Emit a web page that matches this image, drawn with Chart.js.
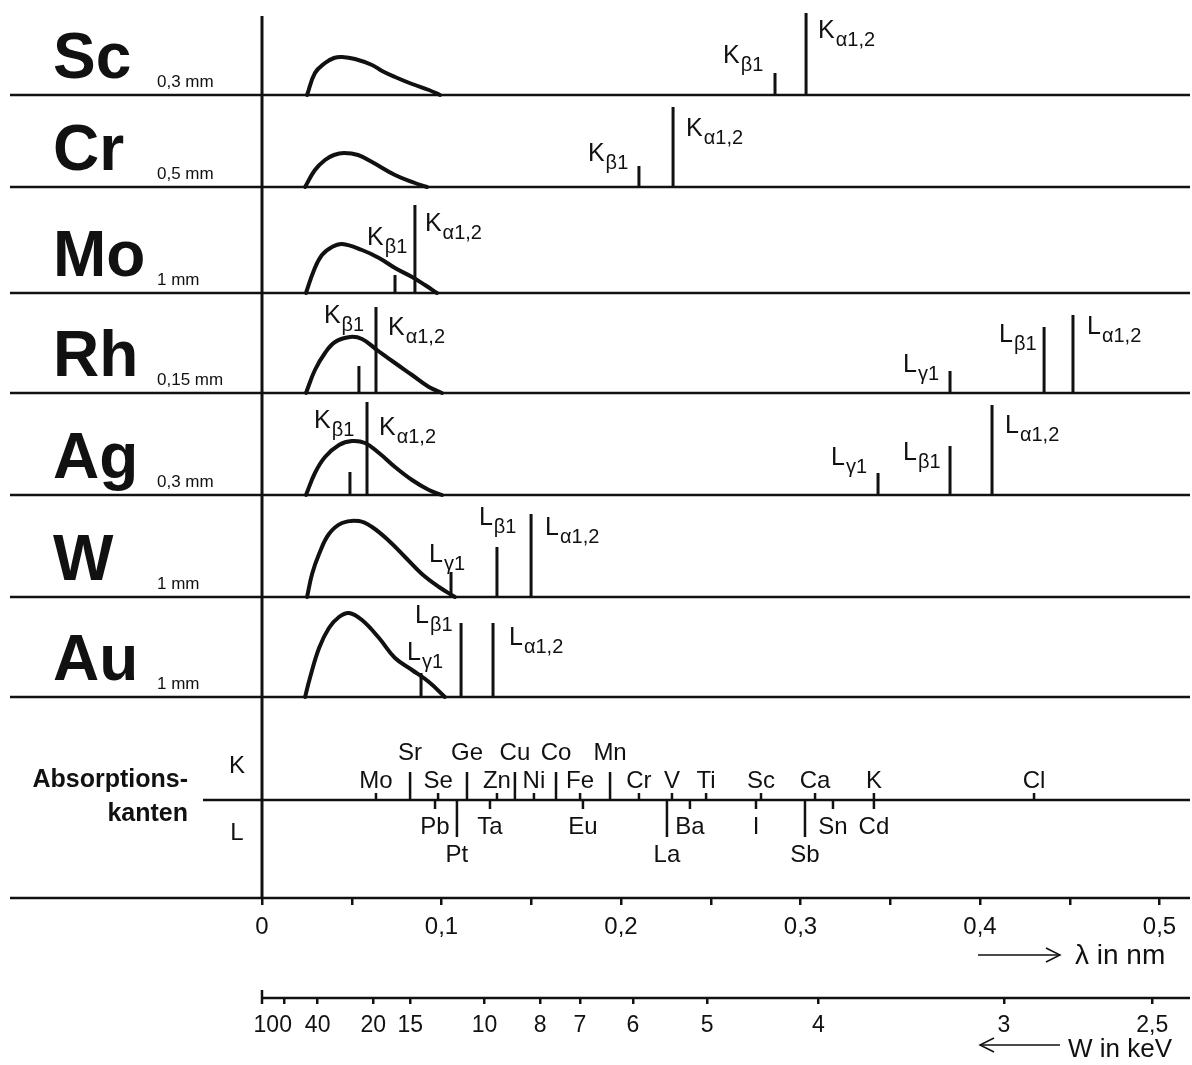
<!DOCTYPE html>
<html>
<head>
<meta charset="utf-8">
<script src="https://cdn.jsdelivr.net/npm/chart.js@4"></script>
<style>
  body { margin: 0; background: #fff; width: 1192px; height: 1065px; position: relative; overflow: hidden; }
  canvas { position: absolute; left: 0; }
</style>
</head>
<body>
<script>
'use strict';

// anode materials and window thickness
const targets = ['Sc', 'Cr', 'Mo', 'Rh', 'Ag', 'W', 'Au'];
const windows = ['0,3 mm', '0,5 mm', '1 mm', '0,15 mm', '0,3 mm', '1 mm', '1 mm'];

// bremsstrahlung continuum, lambda in nm and relative intensity
const contLambda = [
  [0.0251, 0.0295, 0.0351, 0.0401, 0.0446, 0.0518, 0.0613, 0.0669, 0.0741, 0.0836, 0.0930, 0.0992],
  [0.0240, 0.0295, 0.0351, 0.0401, 0.0457, 0.0535, 0.0613, 0.0741, 0.0852, 0.0919],
  [0.0245, 0.0290, 0.0334, 0.0390, 0.0446, 0.0557, 0.0652, 0.0741, 0.0836, 0.0908, 0.0975],
  [0.0245, 0.0295, 0.0351, 0.0407, 0.0490, 0.0557, 0.0641, 0.0741, 0.0836, 0.0930, 0.1003],
  [0.0245, 0.0295, 0.0351, 0.0429, 0.0501, 0.0574, 0.0652, 0.0741, 0.0836, 0.0930, 0.1003],
  [0.0251, 0.0279, 0.0318, 0.0373, 0.0446, 0.0540, 0.0613, 0.0708, 0.0797, 0.0891, 0.0986, 0.1075],
  [0.0240, 0.0267, 0.0318, 0.0373, 0.0429, 0.0485, 0.0557, 0.0652, 0.0741, 0.0836, 0.0930, 0.1019]
];
const contInt = [
  [0, 22, 32, 37, 38, 36, 30, 24, 18, 11, 5, 0],
  [0, 17, 27, 32, 34, 32, 25, 12, 4, 0],
  [0, 23, 38, 46, 49, 43, 35, 25, 16, 8, 0],
  [0, 23, 40, 51, 56, 54, 43, 30, 18, 6, 0],
  [0, 22, 38, 50, 54, 52, 42, 28, 15, 5, 0],
  [0, 23, 43, 63, 74, 76, 70, 56, 40, 23, 10, 0],
  [0, 19, 49, 69, 80, 84, 77, 59, 39, 27, 15, 0]
];

// characteristic lines
const lineNames = [
  ['Kβ1', 'Kα1,2'],
  ['Kβ1', 'Kα1,2'],
  ['Kβ1', 'Kα1,2'],
  ['Kβ1', 'Kα1,2', 'Lγ1', 'Lβ1', 'Lα1,2'],
  ['Kβ1', 'Kα1,2', 'Lγ1', 'Lβ1', 'Lα1,2'],
  ['Lγ1', 'Lβ1', 'Lα1,2'],
  ['Lγ1', 'Lβ1', 'Lα1,2']
];
const lineLambda = [
  [0.2858, 0.3031],
  [0.2100, 0.2290],
  [0.0741, 0.0852],
  [0.0540, 0.0635, 0.3833, 0.4357, 0.4518],
  [0.0490, 0.0585, 0.3432, 0.3833, 0.4067],
  [0.1053, 0.1309, 0.1499],
  [0.0886, 0.1109, 0.1287]
];
const lineInt = [
  [22, 82],
  [21, 80],
  [18, 88],
  [27, 86, 22, 66, 78],
  [23, 93, 22, 49, 90],
  [25, 50, 83],
  [24, 74, 74]
];

// absorption edges (row 1 = label on the outer row)
const kEdgeNames = ['Mo', 'Sr', 'Se', 'Ge', 'Zn', 'Cu', 'Ni', 'Co', 'Fe', 'Mn', 'Cr', 'V', 'Ti', 'Sc', 'Ca', 'K', 'Cl'];
const kEdgeLambda = [0.0635, 0.0825, 0.0981, 0.1142, 0.1309, 0.1409, 0.1515, 0.1638, 0.1772, 0.1939, 0.2100, 0.2284, 0.2474, 0.2780, 0.3081, 0.3409, 0.4301];
const kEdgeRow = [0, 1, 0, 1, 0, 1, 0, 1, 0, 1, 0, 0, 0, 0, 0, 0, 0];
const lEdgeNames = ['Pb', 'Pt', 'Ta', 'Eu', 'La', 'Ba', 'I', 'Sb', 'Sn', 'Cd'];
const lEdgeLambda = [0.0964, 0.1086, 0.1270, 0.1788, 0.2256, 0.2384, 0.2752, 0.3025, 0.3181, 0.3409];
const lEdgeRow = [0, 1, 0, 0, 1, 0, 0, 1, 0, 0];

// axes
const lambdaTicks = [0, 0.05, 0.1, 0.15, 0.2, 0.25, 0.3, 0.35, 0.4, 0.45, 0.5];
const lambdaLabels = ['0', '', '0,1', '', '0,2', '', '0,3', '', '0,4', '', '0,5'];
const energyTicks = [100, 40, 20, 15, 10, 8, 7, 6, 5, 4, 3, 2.5];
const energyLabels = ['100', '40', '20', '15', '10', '8', '7', '6', '5', '4', '3', '2,5'];

// ---- layout ----
const PX_PER_NM = 1795;
const ZERO_PX = 262;
const X_MIN = -ZERO_PX / PX_PER_NM;
const X_MAX = (1192 - ZERO_PX) / PX_PER_NM;
const HC = 1.23984; // keV * nm
const PANEL_BASE = [95, 187, 293, 393, 495, 597, 697];
const FONT = "'Liberation Sans', Arial, Helvetica, sans-serif";
const INK = '#111';

// label offsets of the line names (dx, dy from the top of each line)
const labelOff = [
  [[-52, -28], [12, 7]],
  [[-51, -23], [13, 11]],
  [[-28, -48], [10, 8]],
  [[-35, -61], [12, 10], [-47, -17], [-45, -3], [14, 1]],
  [[-36, -62], [12, 15], [-47, -26], [-47, -4], [13, 10]],
  [[-22, -28], [-18, -40], [14, 3]],
  [[-14, -31], [-46, -18], [16, 4]]
];

function hline(ctx, x1, x2, y, w) {
  ctx.lineWidth = w || 2.5;
  ctx.beginPath(); ctx.moveTo(x1, y); ctx.lineTo(x2, y); ctx.stroke();
}
function vline(ctx, x, y1, y2, w) {
  ctx.lineWidth = w || 3;
  ctx.beginPath(); ctx.moveTo(x, y1); ctx.lineTo(x, y2); ctx.stroke();
}
function text(ctx, s, x, y, size, align, bold) {
  ctx.font = (bold ? 'bold ' : '') + size + 'px ' + FONT;
  ctx.textAlign = align || 'left';
  ctx.textBaseline = 'alphabetic';
  ctx.fillText(s, x, y);
}
// K / L with greek subscript
function lineLabel(ctx, s, x, capTop) {
  const base = capTop + 18;
  text(ctx, s[0], x, base, 25);
  const w = ctx.measureText(s[0]).width;
  text(ctx, s.slice(1), x + w + 1, base + 8, 20);
}
function arrow(ctx, x1, x2, y, headLeft) {
  hline(ctx, x1, x2, y, 1.5);
  const tip = headLeft ? x1 : x2;
  const back = headLeft ? tip + 14 : tip - 14;
  ctx.beginPath();
  ctx.moveTo(back, y - 7); ctx.lineTo(tip, y); ctx.lineTo(back, y + 7);
  ctx.stroke();
}

const deco = {
  id: 'deco',
  afterDraw(chart, args, o) {
    const ctx = chart.ctx;
    const xs = chart.scales.x, ys = chart.scales.y;
    const x0 = xs.getPixelForValue(0);
    ctx.save();
    ctx.fillStyle = INK;
    ctx.strokeStyle = INK;
    ctx.lineCap = 'butt';

    if (o.kind === 'panel') {
      const i = o.i;
      const yb = ys.getPixelForValue(0);
      hline(ctx, 10, 1190, yb, 2.5);
      vline(ctx, x0, i === 0 ? 16 : 0, yb, 3);
      text(ctx, targets[i], 53, yb - 17, 64, 'left', true);
      text(ctx, windows[i], 157, yb - 8, 17);
      lineNames[i].forEach((n, j) => {
        const px = xs.getPixelForValue(lineLambda[i][j]);
        const top = ys.getPixelForValue(lineInt[i][j]);
        lineLabel(ctx, n, px + labelOff[i][j][0], top + labelOff[i][j][1]);
      });
    }

    if (o.kind === 'edges') {
      const ym = ys.getPixelForValue(0);
      const yb = chart.chartArea.bottom;
      hline(ctx, 203, 1190, ym, 2.5);
      hline(ctx, 10, 1190, yb, 2.5);
      vline(ctx, x0, 0, yb, 3);
      kEdgeNames.forEach((n, j) => {
        text(ctx, n, xs.getPixelForValue(kEdgeLambda[j]), ym - (kEdgeRow[j] ? 40 : 12), 24, 'center');
      });
      lEdgeNames.forEach((n, j) => {
        text(ctx, n, xs.getPixelForValue(lEdgeLambda[j]), ym + (lEdgeRow[j] ? 62 : 34), 24, 'center');
      });
      text(ctx, 'K', 237, ym - 27, 24, 'center');
      text(ctx, 'L', 237, ym + 40, 24, 'center');
      text(ctx, 'Absorptions-', 188, ym - 13, 25, 'right', true);
      text(ctx, 'kanten', 188, ym + 21, 25, 'right', true);
      arrow(ctx, 978, 1060, yb + 57, false);
      text(ctx, 'λ in nm', 1075, yb + 66, 28);
    }

    if (o.kind === 'energy') {
      const ya = chart.chartArea.bottom;
      hline(ctx, x0, 1190, ya, 2.5);
      vline(ctx, x0, ya - 8, ya + 6, 2.5);
      arrow(ctx, 980, 1060, ya + 47, true);
      text(ctx, 'W in keV', 1068, ya + 59, 26);
    }
    ctx.restore();
  }
};

function makeCanvas(top, height) {
  const c = document.createElement('canvas');
  c.width = 1192;
  c.height = height;
  c.style.top = top + 'px';
  c.style.width = '1192px';
  c.style.height = height + 'px';
  document.body.appendChild(c);
  return c;
}

function baseOptions(yMin, yMax, decoOpts) {
  return {
    responsive: false,
    animation: false,
    devicePixelRatio: 1,
    layout: { padding: 0 },
    plugins: { legend: { display: false }, tooltip: { enabled: false }, deco: decoOpts },
    scales: {
      x: { type: 'linear', min: X_MIN, max: X_MAX, display: false },
      y: { type: 'linear', min: yMin, max: yMax, display: false }
    }
  };
}

// spectrum panels
const PAD = 8;
targets.forEach((t, i) => {
  const top = i ? PANEL_BASE[i - 1] : 0;
  const h = PANEL_BASE[i] - top;
  const canvas = makeCanvas(top, h + PAD);

  let curve = contLambda[i].map((l, k) => ({ x: l, y: contInt[i][k] }));
  let lines = [];
  lineLambda[i].forEach((l, j) => {
    lines.push({ x: l, y: 0 }, { x: l, y: lineInt[i][j] }, { x: l, y: null });
  });

  new Chart(canvas.getContext('2d'), {
    type: 'line',
    data: {
      datasets: [
        { data: curve, borderColor: INK, borderWidth: 4, pointRadius: 0, tension: 0.4, borderJoinStyle: 'round', borderCapStyle: 'round' },
        { data: lines, borderColor: INK, borderWidth: 3, pointRadius: 0, tension: 0, spanGaps: false, borderCapStyle: 'butt' }
      ]
    },
    options: baseOptions(-PAD, h, { kind: 'panel', i: i }),
    plugins: [deco]
  });
});

// absorption edge panel with the wavelength axis
const EDGE_UP = 103, EDGE_DOWN = 98;
const K_TICK = [7, 28], L_TICK = [-9, -37];
let kTicks = [], lTicks = [];
kEdgeLambda.forEach((l, j) => kTicks.push({ x: l, y: 0 }, { x: l, y: K_TICK[kEdgeRow[j]] }, { x: l, y: null }));
lEdgeLambda.forEach((l, j) => lTicks.push({ x: l, y: 0 }, { x: l, y: L_TICK[lEdgeRow[j]] }, { x: l, y: null }));

const edgeOpts = baseOptions(-EDGE_DOWN, EDGE_UP, { kind: 'edges' });
edgeOpts.scales.x = {
  type: 'linear', min: X_MIN, max: X_MAX, display: true, position: 'bottom',
  border: { display: false },
  grid: { drawOnChartArea: false, drawTicks: true, tickLength: 7, lineWidth: 2.5, color: INK },
  ticks: { autoSkip: false, maxRotation: 0, padding: 8, color: INK, font: { family: FONT, size: 24 },
           callback: (v, i) => lambdaLabels[i] },
  afterBuildTicks: s => { s.ticks = lambdaTicks.map(v => ({ value: v })); },
  afterFit: s => { s.height = 70; }
};
new Chart(makeCanvas(697, 201 + 70).getContext('2d'), {
  type: 'line',
  data: {
    datasets: [
      { data: kTicks, borderColor: INK, borderWidth: 2.5, pointRadius: 0, spanGaps: false },
      { data: lTicks, borderColor: INK, borderWidth: 2.5, pointRadius: 0, spanGaps: false }
    ]
  },
  options: edgeOpts,
  plugins: [deco]
});

// energy axis; the first label sits a little left of its tick as in the print
const energyOpts = baseOptions(0, 1, { kind: 'energy' });
energyOpts.scales.x = {
  type: 'linear', min: X_MIN, max: X_MAX, display: true, position: 'bottom',
  border: { display: false },
  grid: { drawOnChartArea: false, drawTicks: true, tickLength: 6, lineWidth: 2.5, color: INK },
  ticks: { autoSkip: false, maxRotation: 0, padding: 8, color: INK, font: { family: FONT, size: 23 },
           callback: (v, i) => i === 0 ? energyLabels[i] + '\u2003' : energyLabels[i] },
  afterBuildTicks: s => { s.ticks = energyTicks.map(e => ({ value: HC / e })); },
  afterFit: s => { s.height = 67; }
};
new Chart(makeCanvas(975, 90).getContext('2d'), {
  type: 'line',
  data: { datasets: [] },
  options: energyOpts,
  plugins: [deco]
});
</script>
</body>
</html>
